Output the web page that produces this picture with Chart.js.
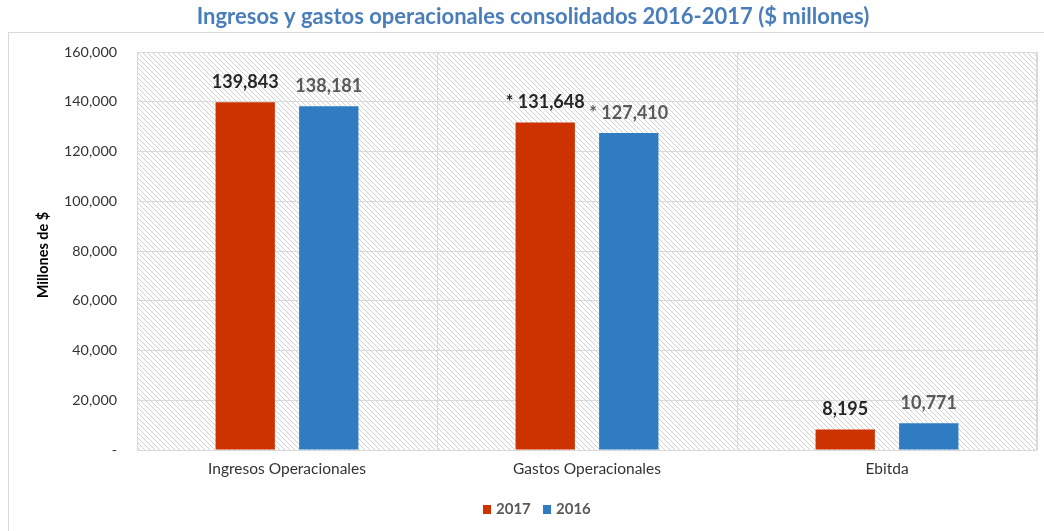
<!DOCTYPE html>
<html>
<head>
<meta charset="utf-8">
<script src="https://cdn.jsdelivr.net/npm/chart.js@4/dist/chart.umd.min.js"></script>
<style>
  html, body { margin: 0; padding: 0; background: #fff; }
  #wrap { width: 1044px; height: 531px; position: relative; }
</style>
</head>
<body>
<div id="wrap"><canvas id="chart" width="1044" height="531"></canvas></div>
<script>
const categories = ["Ingresos Operacionales", "Gastos Operacionales", "Ebitda"];
const values2017 = [139843, 131648, 8195];
const values2016 = [138181, 127410, 10771];
// Gastos values carry an asterisk note in the labels
const labelPrefix = ["", "* ", ""];
const yTicks = [0, 20000, 40000, 60000, 80000, 100000, 120000, 140000, 160000];

const RED = "#CC3300";
const BLUE = "#2F7CC2";
const FONT = "Lato, 'Open Sans', sans-serif";

// diagonal hatch used behind the bars
function makeHatch() {
  const c = document.createElement("canvas");
  c.width = 5; c.height = 5;
  const g = c.getContext("2d");
  g.strokeStyle = "#d0d0d0";
  g.lineWidth = 1;
  g.beginPath();
  g.moveTo(-1, -1); g.lineTo(6, 6);
  g.moveTo(-1, 4); g.lineTo(1, 6);
  g.moveTo(4, -1); g.lineTo(6, 1);
  g.stroke();
  return c;
}

const decor = {
  id: "decor",
  beforeDraw(chart) {
    const { ctx, chartArea: a } = chart;
    ctx.save();
    // outer frame
    ctx.strokeStyle = "#d9d9d9";
    ctx.lineWidth = 1;
    ctx.strokeRect(8.5, 32.5, 1100, 600);
    ctx.fillStyle = ctx.createPattern(makeHatch(), "repeat");
    ctx.fillRect(a.left, a.top, a.right - a.left, a.bottom - a.top);
    ctx.restore();
  },
  afterDatasetsDraw(chart) {
    const { ctx } = chart;
    ctx.save();
    ctx.font = "bold 18px " + FONT;
    ctx.textAlign = "center";
    ctx.textBaseline = "middle";
    chart.data.datasets.forEach((ds, di) => {
      const meta = chart.getDatasetMeta(di);
      ctx.fillStyle = di === 0 ? "#262626" : "#595959";
      meta.data.forEach((bar, i) => {
        const txt = labelPrefix[i] + ds.data[i].toLocaleString("en-US");
        ctx.fillText(txt, bar.x, bar.y - 20);
      });
    });
    ctx.restore();
  },
  afterDraw(chart) {
    const { ctx, chartArea: a } = chart;
    ctx.save();
    // plot border
    ctx.strokeStyle = "#d9d9d9";
    ctx.strokeRect(a.left + 0.5, a.top + 0.5, a.right - a.left - 1, a.bottom - a.top);
    // title
    ctx.font = "bold 22px " + FONT;
    ctx.fillStyle = "#4A7EBB";
    ctx.textAlign = "center";
    ctx.textBaseline = "middle";
    ctx.fillText("Ingresos y gastos operacionales consolidados 2016-2017 ($ millones)", 533, 17);
    // y axis title
    ctx.save();
    ctx.translate(43, 255);
    ctx.rotate(-Math.PI / 2);
    ctx.font = "bold 14.5px " + FONT;
    ctx.fillStyle = "#000";
    ctx.fillText("Millones de $", 0, 0);
    ctx.restore();
    // legend
    ctx.font = "bold 15px " + FONT;
    ctx.textAlign = "left";
    const items = [["2017", RED, 483], ["2016", BLUE, 543]];
    items.forEach(([t, col, x]) => {
      ctx.fillStyle = col;
      ctx.fillRect(x, 505, 8, 9);
      ctx.fillStyle = "#595959";
      ctx.fillText(t, x + 13, 509);
    });
    ctx.restore();
  }
};

new Chart(document.getElementById("chart"), {
  type: "bar",
  data: {
    labels: categories,
    datasets: [
      { label: "2017", data: values2017, backgroundColor: RED },
      { label: "2016", data: values2016, backgroundColor: BLUE }
    ]
  },
  options: {
    responsive: false,
    animation: false,
    layout: { padding: { top: 52, right: 7, left: 0, bottom: 0 } },
    datasets: { bar: { categoryPercentage: 0.557, barPercentage: 0.71 } },
    plugins: { legend: { display: false }, title: { display: false }, tooltip: { enabled: false } },
    scales: {
      x: {
        grid: { color: "#d9d9d9", offset: true, drawTicks: false },
        border: { display: false },
        ticks: { color: "#333333", font: { family: FONT, size: 15.5 }, padding: 10 },
        afterFit(s) { s.height = 81; }
      },
      y: {
        min: 0, max: 160000,
        afterBuildTicks(s) { s.ticks = yTicks.map(v => ({ value: v })); },
        grid: { color: "#d9d9d9", drawTicks: false },
        border: { display: false },
        ticks: {
          color: "#333333", font: { family: FONT, size: 14.3 }, padding: 20,
          callback: v => v === 0 ? "-" : v.toLocaleString("en-US")
        },
        afterFit(s) { s.width = 137; }
      }
    }
  },
  plugins: [decor]
});
</script>
</body>
</html>
